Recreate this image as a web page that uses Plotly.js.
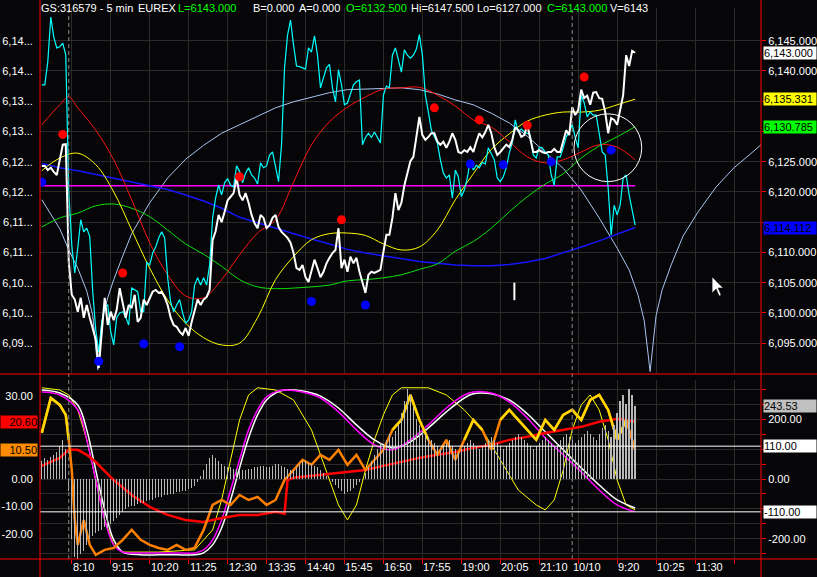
<!DOCTYPE html>
<html><head><meta charset="utf-8">
<script src="https://cdn.plot.ly/plotly-3.0.1.min.js"></script>
<style>html,body{margin:0;padding:0;background:#060608;}#chart{width:817px;height:577px;}</style>
</head><body><div id="chart"></div>
<script>
// ---------- DATA ----------
const FIRST_BAR = -9; // bar index of first bar (index 0 = 8:05 first bar of day 1)
const closePrice = [
6124.3,6124.3,6123.6,6124.0,6123.3,6122.8,6125.3,6127.8,6127.9,
6108.4,6103.0,6102.2,6100.2,6102.5,6099.2,6101.3,6099.2,6097.2,6095.6,
6090.9,6096.4,6102.5,6098.0,6100.2,6098.8,6100.5,6104.1,6101.3,6099.2,
6101.3,6100.8,6103.0,6098.5,6099.2,6102.2,6101.3,6102.5,6103.5,6103.8,
6103.3,6103.5,6102.6,6101.3,6099.2,6098.0,6097.7,6096.9,6096.4,6097.5,
6096.2,6098.5,6100.5,6102.2,6101.3,6102.2,6102.6,6103.8,6112.0,6113.5,
6116.2,6115.0,6116.7,6118.6,6119.2,6119.8,6122.3,6119.5,6118.6,6119.8,
6118.2,6116.2,6114.8,6114.0,6116.2,6115.7,6114.0,6114.5,6115.7,6116.2,
6114.2,6113.4,6112.9,6112.4,6111.6,6109.9,6107.4,6107.1,6107.9,6105.9,
6105.1,6106.8,6108.8,6107.4,6105.9,6106.8,6108.2,6109.1,6109.9,6110.4,
6114.0,6107.4,6108.8,6106.8,6109.3,6108.2,6109.1,6106.8,6105.1,6103.3,
6106.3,6106.8,6106.6,6106.8,6107.1,6110.1,6112.9,6112.9,6115.7,6119.8,
6117.0,6118.2,6121.1,6123.1,6125.1,6125.8,6129.4,6132.4,6129.4,6128.6,
6129.1,6129.7,6129.7,6128.3,6127.8,6128.3,6127.3,6128.3,6129.7,6128.6,
6126.6,6126.4,6126.9,6126.6,6127.4,6126.6,6128.3,6129.7,6129.0,6129.9,
6131.1,6129.7,6127.4,6126.1,6126.6,6127.3,6127.8,6127.4,6128.6,6130.7,
6130.2,6129.1,6129.4,6131.1,6129.0,6126.6,6126.6,6126.9,6126.6,6126.4,
6126.6,6126.6,6127.1,6126.6,6126.6,6128.3,6130.2,6129.4,6134.0,6132.7,
6133.5,6136.9,6135.5,6135.9,6134.4,6136.4,6136.5,6135.5,6135.4,6133.2,
6129.7,6132.2,6131.9,6131.1,6133.9,6136.0,6142.6,6140.8,6143.3,6143.0
];
const cyanPrice = [
6137.7,6137.7,6141.5,6148.9,6145.6,6143.8,6144.0,6144.6,6142.6,
6120.0,6111.2,6106.6,6110.7,6115.4,6113.4,6114.0,6112.6,6103.5,6097.2,
6093.5,6098.5,6101.0,6101.3,6096.9,6094.7,6099.2,6100.0,6100.2,6099.3,
6098.0,6104.1,6103.8,6103.5,6100.2,6100.2,6108.4,6107.9,6109.9,6110.9,
6112.4,6113.4,6112.4,6105.8,6101.8,6100.2,6101.3,6102.2,6100.0,6098.3,
6098.8,6100.2,6104.6,6105.8,6104.6,6105.8,6104.6,6107.9,6115.7,6119.0,
6121.1,6119.5,6121.5,6122.2,6121.1,6120.8,6124.3,6123.4,6121.5,6123.1,
6124.0,6122.8,6122.3,6121.3,6124.8,6124.0,6124.3,6126.1,6126.6,6124.4,
6121.7,6127.8,6140.5,6145.9,6148.4,6144.3,6140.8,6140.7,6140.5,6140.3,
6143.8,6143.1,6145.8,6142.6,6137.2,6138.8,6140.5,6141.1,6137.2,6134.9,
6140.2,6137.7,6134.4,6134.7,6136.2,6137.7,6138.2,6138.5,6127.8,6129.0,
6129.7,6129.0,6129.9,6129.0,6128.1,6136.0,6137.5,6137.2,6142.6,6143.8,
6141.8,6139.8,6143.5,6142.6,6142.1,6142.6,6143.6,6146.0,6142.6,6136.0,
6133.2,6130.2,6129.1,6128.1,6125.3,6123.1,6122.3,6122.8,6119.0,6123.6,
6122.5,6119.2,6120.3,6122.3,6125.3,6123.6,6124.4,6124.0,6124.9,6124.6,
6127.3,6126.4,6125.3,6122.3,6121.7,6122.5,6124.0,6126.4,6128.1,6131.9,
6129.9,6130.4,6129.9,6129.7,6129.4,6126.1,6125.6,6127.4,6127.3,6126.6,
6126.1,6122.8,6121.1,6125.8,6125.8,6127.3,6129.1,6129.9,6131.1,6129.0,
6127.3,6136.0,6134.7,6132.4,6133.2,6132.7,6132.7,6129.7,6126.6,6126.1,
6120.6,6112.9,6117.8,6116.2,6117.8,6122.3,6122.8,6119.5,6117.0,6114.5
];
// smooth averages sampled every 6 bars
const smoothIdx = [-9,-3,3,9,15,21,27,33,39,45,51,57,63,69,75,81,87,93,99,105,111,117,123,129,135,141,147,153,159,165,171,177,183,189];
const redAvg = [6131.1,6134.4,6133.9,6130.2,6125.3,6118.7,6111.6,6106.3,6102.8,6102.5,6105.5,6109.6,6113.2,6115.4,6121.6,6127.8,6131.6,6134.0,6135.7,6137.0,6137.2,6137.3,6136.0,6134.2,6131.9,6130.7,6128.3,6125.8,6124.8,6125.3,6126.6,6127.8,6127.4,6125.3];
const yellowAvg = [6123.5,6125.6,6126.4,6124.5,6120.0,6113.7,6107.4,6102.1,6098.3,6095.9,6094.7,6095.0,6099.2,6105.5,6109.3,6112.1,6113.1,6113.2,6112.8,6111.4,6110.4,6110.9,6113.7,6118.7,6123.0,6127.0,6129.6,6131.7,6132.7,6133.2,6133.2,6133.5,6134.4,6135.331];
const greenAvg = [6114.2,6115.7,6116.5,6117.7,6118.0,6117.3,6115.9,6113.7,6111.4,6109.7,6107.7,6105.5,6104.3,6104.0,6104.1,6104.3,6104.6,6105.3,6105.5,6105.8,6106.3,6107.2,6108.1,6110.2,6111.8,6114.0,6116.7,6119.2,6121.3,6123.0,6125.6,6127.6,6129.1,6130.785];
const blueAvg = [6124.7,6124.0,6123.5,6122.9,6122.3,6121.6,6121.1,6120.4,6119.5,6118.5,6117.3,6115.8,6114.9,6114.0,6113.0,6112.2,6111.4,6110.5,6109.9,6109.4,6108.9,6108.5,6108.2,6107.9,6107.8,6107.8,6108.0,6108.4,6109.0,6109.9,6110.9,6111.9,6113.0,6114.112];
const redAvgPeakIdx = [0]; const redAvgPeak = [6135.7];
// cycle projection (extends past last bar)
const cycleIdx = [-9,-6,-3,0,3,6,8,9.7,11,13,15,18,21,27,33,39,45,51,57,63,69,75,81,87,93,99,105,111,117,123,129,135,141,147,153,159,165,171,177,183,187,190,192,194,196,198,201,205,210,216,222,228,231];
const cycleVal = [6118.7,6116.4,6113.9,6110.4,6107.4,6103.6,6099.6,6090.6,6098.5,6102.5,6105.5,6109.4,6113.1,6118.2,6122.3,6125.4,6127.7,6129.7,6131.1,6132.6,6133.9,6134.9,6135.7,6136.4,6136.9,6137.0,6137.2,6137.2,6136.9,6136.2,6135.2,6134.4,6133.0,6131.4,6129.2,6126.6,6123.9,6120.3,6115.7,6110.7,6107.1,6102.9,6098.8,6090.3,6099.6,6103.8,6107.9,6112.7,6116.7,6120.8,6124.0,6126.5,6127.8];
const pivotLevel = 6121.0;
const highDotIdx = [-2,18,57,91,122,137,153,172];
const highDotVal = [6129.5,6106.6,6122.5,6115.4,6133.9,6131.9,6131.0,6139.0];
const lowDotIdx = [-9,10,25,37,81,99,134,145,161,181];
const lowDotVal = [6121.6,6092.0,6094.9,6094.4,6101.9,6101.3,6124.6,6124.5,6125.0,6126.9];
const lastValues = {close:6143.000, yellow:6135.331, green:6130.785, blue:6114.112};

// lower pane (oscillators)
const oscIdx = [-9,-6,-3,-1,0,1,2,3,5,7,9,12,15,18,21,24,27,30,33,36,39,42,45,48,51,54,57,60,63,66,69,72,75,78,81,84,87,90,93,96,99,102,105,108,111,114,117,120,123,126,129,132,135,138,141,144,147,150,153,156,159,162,165,168,171,174,177,180,183,186,189];
const oscMain = [16.6,29.2,26.7,23.1,14.1,3.2,-14.8,-23.8,-14.8,-23.8,-27.4,-25.6,-24.9,-22.0,-18.4,-22.0,-23.8,-24.9,-25.6,-23.8,-25.6,-24.9,-18.4,-9.4,-7.6,-9.4,-5.8,-7.6,-6.5,-9.4,-7.6,-0.4,3.2,6.9,5.1,8.7,6.9,10.5,5.1,8.7,3.2,6.9,10.5,17.7,21.3,30.3,21.3,14.1,8.7,14.1,6.9,14.1,21.3,17.7,10.5,21.3,24.9,21.3,17.7,14.1,21.3,17.7,23.1,24.9,21.3,28.5,30.3,24.9,14.1,21.3,10.50];
const oscThreshold = 11.2;
const redOscIdx = [-9,-3,0,3,6,9,15,21,27,33,39,45,51,57,63,69,72,73,75,81,87,93,99,105,111,117,123,129,135,141,147,153,159,165,171,177,183,189];
const redOsc = [4.7,7.6,10.5,10.5,8.7,6.1,-0.4,-5.8,-10.1,-13.0,-14.8,-15.5,-14.1,-13.0,-13.0,-11.9,-12.6,-0.4,0.4,1.1,1.8,2.5,3.2,4.7,6.1,7.6,8.7,9.7,11.2,12.3,14.1,15.2,16.6,17.7,18.8,20.6,21.7,20.60];
const stochIdx = [-9,-3,3,6,9,12,15,18,24,30,36,42,45,48,51,54,57,60,63,66,69,72,78,84,90,96,102,108,114,120,126,132,135,141,147,153,159,165,171,177,183,189];
const stochMagenta = [31.4,30.3,24.9,14.1,-0.4,-14.8,-23.8,-26.4,-26.7,-26.7,-26.7,-26.7,-25.6,-22.0,-14.8,-4.0,6.9,17.7,24.9,29.6,31.4,32.1,31.4,29.2,24.2,17.7,12.3,10.5,14.1,19.5,25.6,30.3,31.4,31.0,27.8,22.0,14.8,8.7,2.5,-4.0,-9.4,-11.9];
const stochWhite = [32.1,31.0,26.7,17.7,3.2,-11.2,-22.0,-26.4,-27.4,-27.4,-27.4,-27.4,-26.7,-23.8,-17.7,-7.6,4.0,14.8,23.1,28.5,31.0,32.1,31.7,29.9,25.6,19.5,14.1,11.2,13.4,18.4,24.2,29.2,30.7,30.7,28.5,23.5,17.0,10.5,4.0,-2.2,-7.6,-10.5];
const fastIdx = [-9,-3,0,3,6,9,12,15,18,30,42,48,51,54,57,60,63,69,75,81,87,90,93,96,99,102,105,108,111,120,126,132,138,144,150,156,159,162,165,168,171,174,177,180,183,186,189];
const fastYellow = [32.9,32.1,30.3,24.9,14.1,-0.4,-14.8,-23.8,-26.4,-26.4,-25.6,-18.4,-7.6,6.9,21.3,30.3,32.9,32.1,28.5,17.7,-0.4,-9.4,-14.8,-9.4,3.2,14.1,23.1,30.3,32.9,32.9,30.3,24.9,17.7,6.9,-4.0,-9.4,-11.2,-7.6,3.2,17.7,26.7,30.3,24.9,14.1,-0.4,-9.4,-11.2];
const histFirst = -9;
const histVal = [
60,70,65,75,80,90,110,130,100,
-40,-200,-260,-270,-250,-240,-220,-200,-190,-180,
-175,-170,-160,-165,-150,-140,-130,-120,-110,-100,
-95,-90,-90,-85,-80,-80,-75,-70,-70,-65,
-60,-60,-55,-55,-50,-50,-45,-45,-40,-40,
-35,-30,-25,-10,10,30,50,70,80,70,
60,50,45,40,40,35,35,30,30,30,
35,35,40,40,45,45,40,40,45,50,
50,45,40,35,30,30,40,50,60,60,
55,50,45,40,30,20,10,0,-10,-20,
-30,-40,-50,-45,-40,-30,-20,-10,0,20,
40,60,80,100,120,110,130,150,140,160,
180,220,260,300,280,240,200,180,160,150,
140,130,120,110,100,110,120,130,110,100,
90,100,110,120,130,120,110,100,110,120,
130,140,130,120,110,100,110,120,130,140,
150,140,130,120,110,100,110,120,130,140,
130,120,110,120,130,140,150,140,130,120,
130,140,150,160,150,140,130,150,170,180,
160,140,180,220,260,280,250,300,280,243.53
];
const bandLevels = [110, -110];
const lastOsc = {hist:243.53, red:20.60, orange:10.50};

// axes
const timeTickIdx = [1,14,27,40,53,66,79,92,105,118,131,144,157,170,183,196,209,222];
const timeTickText = ['8:10','9:15','10:20','11:25','12:30','13:35','14:40','15:45','16:50','17:55','19:00','20:05','21:10','','9:20','10:25','11:30',''];
const dayBreakIdx = [0,168];
const dayLabel = '10/10';
const priceTicks = [6095,6100,6105,6110,6115,6120,6125,6130,6135,6140,6145];
const priceTickLeft = ['6,09...','6,10...','6,10...','6,11...','6,11...','6,12...','6,12...','6,13...','6,13...','6,14...','6,14...'];
const priceTickRight = ['6,095.000','6,100.000','6,105.000','6,110.000','','6,120.000','6,125.000','','','6,140.000','6,145.000'];
const oscTicks = [-20,-10,0,10,20,30];
const oscTickText = ['-20.00','-10.00','0.00','','','30.00'];
const histTicks = [-250,-200,-150,-100,-50,0,50,100,150,200,250,300];
const histTickText = ['','-200.00','','','','0.00','','','','200.00','',''];

// ---------- BUILD ----------
const FONT = 'Liberation Sans, Arial, sans-serif';
const barIdx = closePrice.map((_, i) => FIRST_BAR + i);
const histIdx = histVal.map((_, i) => histFirst + i);
const lastBar = barIdx[barIdx.length - 1];

const redPts = smoothIdx.map((x,i)=>[x,redAvg[i]]).concat(redAvgPeakIdx.map((x,i)=>[x,redAvgPeak[i]])).sort((a,b)=>a[0]-b[0]);
const yellowSeg = oscMain.map(v => v >= oscThreshold ? v : null);

function line(x,y,color,width,xa,ya,extra){return Object.assign({type:'scatter',mode:'lines',x:x,y:y,xaxis:xa||'x',yaxis:ya||'y',line:{color:color,width:width},hoverinfo:'skip',showlegend:false},extra||{});}

const traces = [
  line(cycleIdx, cycleVal, '#a8c4f0', 1),
  line([FIRST_BAR, lastBar], [pivotLevel, pivotLevel], '#ff00ff', 1.5),
  line(smoothIdx, blueAvg, '#1515ff', 1.5),
  line(smoothIdx, greenAvg, '#10e010', 1, null, null, {line:{color:'#10e010',width:1,shape:'spline'}}),
  line(smoothIdx, yellowAvg, '#ffff00', 1, null, null, {line:{color:'#ffff00',width:1,shape:'spline'}}),
  line(redPts.map(p=>p[0]), redPts.map(p=>p[1]), '#ff1010', 1, null, null, {line:{color:'#ff1010',width:1,shape:'spline'}}),
  line(barIdx, cyanPrice, '#00ffff', 1.2),
  line(barIdx, closePrice, '#ffffff', 2),
  {type:'scatter',mode:'markers',x:highDotIdx,y:highDotVal,marker:{color:'#ff0000',size:9},xaxis:'x',yaxis:'y',hoverinfo:'skip',showlegend:false},
  {type:'scatter',mode:'markers',x:lowDotIdx,y:lowDotVal,marker:{color:'#0000ff',size:9},xaxis:'x',yaxis:'y',hoverinfo:'skip',showlegend:false},
  // lower pane
  {type:'bar',x:histIdx,y:histVal,xaxis:'x',yaxis:'y3',width:0.45,marker:{color:'#b8b8b8',line:{width:0}},hoverinfo:'skip',showlegend:false},
  line(fastIdx, fastYellow, '#ffff00', 1, 'x', 'y2'),
  line(stochIdx, stochWhite, '#ffffff', 1.5, 'x', 'y2', {line:{color:'#ffffff',width:1.5,shape:'spline'}}),
  line(stochIdx, stochMagenta, '#ff00ff', 1.5, 'x', 'y2', {line:{color:'#ff00ff',width:1.5,shape:'spline'}}),
  line(redOscIdx, redOsc, '#ff0000', 2.5, 'x', 'y2'),
  line(oscIdx, oscMain, '#ff8000', 2.5, 'x', 'y2'),
  line(oscIdx, yellowSeg, '#ffd800', 2.5, 'x', 'y2', {connectgaps:false})
];

const W = 817, H = 577, L = 40, R = 761, T = 8, B = 559;
const px = x => (x - L) / (R - L);
const py = y => (B - y) / (B - T);
const topDomain = [py(374), 1];
const botDomain = [0, py(380)];

const annotations = [];
function hdr(text, x, color){annotations.push({xref:'paper',yref:'paper',x:px(x),y:py(8),xanchor:'left',yanchor:'middle',text:text,showarrow:false,font:{family:FONT,size:11,color:color},borderpad:0});}
hdr('GS:316579 - 5 min', 40, '#ffffff');
hdr('EUREX', 137, '#ffffff');
hdr('L=6143.000', 177, '#00ff00');
hdr('B=0.000', 252, '#ffffff');
hdr('A=0.000', 298, '#ffffff');
hdr('O=6132.500', 345, '#00ff00');
hdr('Hi=6147.500', 410, '#ffffff');
hdr('Lo=6127.000', 476, '#ffffff');
hdr('C=6143.000', 546, '#00ff00');
hdr('V=6143', 609, '#ffffff');

// time labels (drawn just right of each tick, as in the original)
timeTickIdx.forEach((t,i)=>{ if(timeTickText[i]) annotations.push({xref:'x',yref:'paper',x:t,y:py(567),xanchor:'left',yanchor:'middle',xshift:0,text:timeTickText[i],showarrow:false,font:{family:FONT,size:11,color:'#ffffff'},borderpad:0}); });
annotations.push({xref:'x',yref:'paper',x:dayBreakIdx[1],y:py(567),xanchor:'left',yanchor:'middle',text:dayLabel,showarrow:false,font:{family:FONT,size:11,color:'#ffffff'},borderpad:0});

function fmtPrice(v){const s=v.toFixed(3);const [a,b]=s.split('.');return a.slice(0,1)+','+a.slice(1)+'.'+b;}
function rbox(val, yref, text, bg, fg){annotations.push({xref:'paper',yref:yref,x:1,y:val,xanchor:'left',yanchor:'middle',xshift:2,text:text,showarrow:false,bgcolor:bg,font:{family:FONT,size:11,color:fg},width:52,height:12,align:'left',borderpad:0});}
rbox(lastValues.close,'y',fmtPrice(lastValues.close),'#ffffff','#000000');
rbox(lastValues.yellow,'y',fmtPrice(lastValues.yellow),'#ffff00','#000000');
rbox(lastValues.green,'y',fmtPrice(lastValues.green),'#00ff00','#000000');
rbox(lastValues.blue,'y',fmtPrice(lastValues.blue),'#0000ff','#000000');
rbox(lastOsc.hist,'y3',lastOsc.hist.toFixed(2),'#c0c0c0','#000000');
rbox(bandLevels[0],'y3',bandLevels[0].toFixed(2),'#ffffff','#000000');
rbox(bandLevels[1],'y3',bandLevels[1].toFixed(2),'#ffffff','#000000');
function lbox(val, text, bg){annotations.push({xref:'paper',yref:'y2',x:px(38),y:val,xanchor:'right',yanchor:'middle',text:text,showarrow:false,bgcolor:bg,font:{family:FONT,size:11,color:'#000000'},width:36,height:12,align:'right',borderpad:0});}
lbox(lastOsc.red, lastOsc.red.toFixed(2), '#ff0000');
lbox(lastOsc.orange, lastOsc.orange.toFixed(2), '#ff8c00');

const shapes = [];
dayBreakIdx.forEach(d => shapes.push({type:'line',xref:'x',yref:'paper',x0:d,x1:d,y0:0,y1:py(10),line:{color:'#8a8a8a',width:1,dash:'4px,3px'}}));
bandLevels.forEach(v => shapes.push({type:'line',xref:'paper',yref:'y3',x0:0,x1:1,y0:v,y1:v,line:{color:'#ffffff',width:1}}));
// pane frame lines (red)
shapes.push({type:'line',xref:'paper',yref:'paper',x0:px(0),x1:px(817),y0:py(374),y1:py(374),line:{color:'#ff0000',width:1}});
shapes.push({type:'line',xref:'paper',yref:'paper',x0:px(0),x1:px(817),y0:py(559),y1:py(559),line:{color:'#ff0000',width:1}});
shapes.push({type:'line',xref:'paper',yref:'paper',x0:0,x1:0,y0:py(577),y1:py(0),line:{color:'#ff0000',width:1}});
shapes.push({type:'line',xref:'paper',yref:'paper',x0:1,x1:1,y0:py(577),y1:py(0),line:{color:'#ff0000',width:1}});
// drawing objects on the chart
shapes.push({type:'circle',xref:'x',yref:'y',x0:168.6,x1:191.2,y0:6121.7,y1:6132.9,line:{color:'#ffffff',width:1}});
shapes.push({type:'line',xref:'x',yref:'y',x0:148.7,x1:148.7,y0:6102.1,y1:6105.0,line:{color:'#ffffff',width:2}});
// mouse pointer
const cur = [[712,277],[712,293],[716,289],[719,296],[721,295],[718,288],[723,288]];
const toX = p => (p - 68.8) / 2.996, toY = p => 6145 - (p - 40.7) / 6.05;
shapes.push({type:'path',xref:'x',yref:'y',path:'M'+cur.map(c=>toX(c[0])+','+toY(c[1])).join(' L')+' Z',fillcolor:'#ffffff',line:{color:'#000000',width:0.5}});

const grid = '#2b2b2b';
const tickFont = {family:FONT,size:11,color:'#ffffff'};
const layout = {
  width:W,height:H,margin:{l:L,r:W-R,t:T,b:H-B,pad:0},
  paper_bgcolor:'#060608',plot_bgcolor:'#060608',
  showlegend:false,bargap:0,hovermode:false,
  xaxis:{domain:[0,1],range:[-9.6,231],anchor:'y2',tickmode:'array',tickvals:timeTickIdx,ticktext:timeTickText,showticklabels:false,showgrid:true,gridcolor:grid,gridwidth:1,zeroline:false,ticks:'outside',ticklen:4,tickcolor:'#ff0000',showline:false,fixedrange:true},
  yaxis:{domain:topDomain,range:[6089.9,6150.4],tickmode:'array',tickvals:priceTicks,ticktext:priceTickLeft,side:'left',showgrid:true,gridcolor:grid,zeroline:false,ticks:'outside',ticklen:4,tickcolor:'#060608',tickfont:tickFont,anchor:'x',fixedrange:true},
  yaxis4:{overlaying:'y',side:'right',range:[6089.9,6150.4],tickmode:'array',tickvals:priceTicks,ticktext:priceTickRight,showgrid:false,zeroline:false,ticks:'outside',ticklen:4,tickcolor:'#ff0000',tickfont:tickFont,anchor:'x',fixedrange:true},
  yaxis2:{domain:botDomain,range:[-28.9,35.7],tickmode:'array',tickvals:oscTicks,ticktext:oscTickText,side:'left',showgrid:false,zeroline:false,ticks:'outside',ticklen:4,tickcolor:'#060608',tickfont:tickFont,anchor:'x',fixedrange:true},
  yaxis3:{overlaying:'y2',side:'right',range:[-268,331.7],tickmode:'array',tickvals:histTicks,ticktext:histTickText,showgrid:true,gridcolor:grid,zeroline:false,ticks:'outside',ticklen:4,tickcolor:'#ff0000',tickfont:tickFont,anchor:'x',fixedrange:true},
  annotations:annotations,shapes:shapes
};
traces.push({type:'scatter',mode:'lines',x:[FIRST_BAR],y:[closePrice[0]],xaxis:'x',yaxis:'y4',line:{width:0},hoverinfo:'skip',showlegend:false});
Plotly.newPlot('chart', traces, layout, {staticPlot:true,displayModeBar:false});
</script></body></html>
